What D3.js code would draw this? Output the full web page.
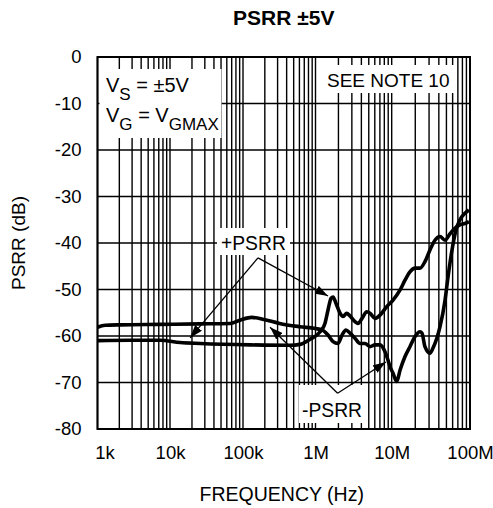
<!DOCTYPE html>
<html><head><meta charset="utf-8">
<script src="https://cdn.jsdelivr.net/npm/d3@7"></script>
<style>
body{margin:0;background:#fff}
text{font-family:"Liberation Sans",Arial,Helvetica,sans-serif;fill:#000}
</style>
</head><body>
<svg id="c" width="493" height="508"></svg>
<script>
// ---- data ----
const xDecades = [1e3, 1e4, 1e5, 1e6, 1e7, 1e8];
const xTickLabels = ["1k", "10k", "100k", "1M", "10M", "100M"];
const yTicks = [0, -10, -20, -30, -40, -50, -60, -70, -80];
const yTickLabels = ["0", "-10", "-20", "-30", "-40", "-50", "-60", "-70", "-80"];

const plusFreq = [1e3, 2.83e3, 7.3e3, 1.38e4, 2.59e4, 1.25e5, 4.45e5, 6.1e5, 8.4e5, 1.15e6, 1.33e6, 1.46e6, 1.6e6, 1.7e6, 1.86e6, 2.1e6, 2.3e6, 2.57e6, 2.84e6, 3.3e6, 3.61e6, 4.08e6, 4.7e6, 5.19e6, 6.04e6, 7.02e6, 8.59e6, 1.04e7, 1.28e7, 1.48e7, 1.71e7, 1.99e7, 2.3e7, 2.66e7, 3.08e7, 3.57e7, 4.14e7, 4.8e7, 5.56e7, 6.44e7, 7.45e7, 8.63e7, 9.7e7];
const plusDb = [-61.0, -60.9, -60.9, -61.4, -61.6, -61.9, -62.0, -61.8, -60.7, -59.1, -57.3, -54.4, -51.9, -51.6, -53.0, -55.1, -55.8, -55.1, -55.7, -56.9, -57.3, -56.2, -54.8, -55.1, -56.2, -55.5, -53.7, -52.3, -50.1, -48.0, -46.2, -45.4, -45.4, -44.0, -41.5, -39.4, -38.6, -39.4, -38.0, -36.8, -36.1, -35.8, -35.4];

const minusFreq = [1e3, 1.28e3, 2.06e3, 7.3e3, 2.59e4, 6.64e4, 9.1e4, 1.32e5, 2.01e5, 3.19e5, 6.1e5, 1e6, 1.22e6, 1.46e6, 1.7e6, 1.97e6, 2.23e6, 2.51e6, 2.84e6, 3.3e6, 3.84e6, 4.47e6, 5.19e6, 6.04e6, 7.02e6, 8.17e6, 8.94e6, 9.5e6, 1.04e7, 1.16e7, 1.28e7, 1.48e7, 1.71e7, 1.99e7, 2.3e7, 2.44e7, 2.66e7, 3.08e7, 3.37e7, 4.14e7, 4.8e7, 5.24e7, 5.89e7, 6.62e7, 7.45e7, 8.63e7, 9.7e7];
const minusDb = [-58.1, -57.7, -57.6, -57.5, -57.4, -57.3, -56.6, -56.0, -56.5, -57.3, -58.0, -58.4, -58.7, -59.8, -61.2, -61.6, -59.8, -58.7, -59.4, -60.5, -61.6, -61.6, -62.3, -61.9, -61.9, -63.4, -65.2, -66.6, -68.0, -69.8, -67.3, -64.4, -62.3, -60.1, -59.1, -59.4, -62.3, -63.7, -62.6, -58.0, -52.3, -47.3, -41.5, -37.2, -35.0, -33.6, -32.9];

// annotation anchors in data coordinates [freq, dB]
const plusVertex = [1.61e5, -43.2];
const plusTips = [[1.89e4, -60.4], [1.46e6, -51.4]];
const minusVertex = [1.95e6, -72.3];
const minusTips = [[2.36e5, -58.1], [8.41e6, -65.6]];

// ---- layout ----
const svg = d3.select("#c");
const x = d3.scaleLog().domain(xDecades).range([97.5, 170, 243, 315.5, 391.7, 470]);
const y = d3.scaleLinear().domain([0, -80]).range([57, 429]);
const [x0, x1] = [x(1e3), x(1e8)];
const [y0, y1] = [y(0), y(-80)];

// grid
const vGrid = [];
xDecades.slice(0, 5).forEach(d => { for (let k = 1; k <= 9; k++) vGrid.push(k * d); });
vGrid.push(1e8);
svg.append("g").selectAll("line").data(vGrid).join("line")
  .attr("x1", d => x(d)).attr("x2", d => x(d)).attr("y1", y0).attr("y2", y1)
  .attr("stroke", "#000").attr("stroke-width", 1.4);
svg.append("g").selectAll("line").data(yTicks).join("line")
  .attr("x1", x0).attr("x2", x1).attr("y1", d => y(d)).attr("y2", d => y(d))
  .attr("stroke", "#000").attr("stroke-width", 1.4);
svg.append("rect").attr("x", x0).attr("y", y0).attr("width", x1 - x0).attr("height", y1 - y0)
  .attr("fill", "none").attr("stroke", "#000").attr("stroke-width", 2);

// axes
const xAxis = d3.axisBottom(x).tickValues(xDecades).tickFormat((d, i) => xTickLabels[i]).tickSize(0).tickPadding(0);
const gx = svg.append("g").attr("transform", `translate(0,${y1 + 24})`).call(xAxis);
gx.select(".domain").remove();
gx.selectAll("text").attr("font-size", 18.5).attr("font-family", "Liberation Sans, Arial, sans-serif")
  .attr("fill", "#000").attr("dy", "0.35em")
  .attr("dx", (d, i) => i === 0 ? 7 : 0);

const yAxis = d3.axisLeft(y).tickValues(yTicks).tickFormat((d, i) => yTickLabels[i]).tickSize(0).tickPadding(0);
const gy = svg.append("g").attr("transform", `translate(${x0 - 16},0)`).call(yAxis);
gy.select(".domain").remove();
gy.selectAll("text").attr("font-size", 18.5).attr("font-family", "Liberation Sans, Arial, sans-serif")
  .attr("fill", "#000");

// titles
svg.append("text").attr("x", (x0 + x1) / 2).attr("y", 25).attr("text-anchor", "middle")
  .attr("font-size", 21).attr("font-weight", "bold").text("PSRR ±5V");
svg.append("text").attr("x", (x0 + x1) / 2 - 2).attr("y", 501).attr("text-anchor", "middle")
  .attr("font-size", 19.5).text("FREQUENCY (Hz)");
svg.append("text").attr("transform", `translate(25,${(y0 + y1) / 2}) rotate(-90)`).attr("text-anchor", "middle")
  .attr("font-size", 19).text("PSRR (dB)");

// label boxes
function box(bx, by, bw, bh) {
  svg.append("rect").attr("x", bx).attr("y", by).attr("width", bw).attr("height", bh).attr("fill", "#fff");
}
box(x0 + 2, 69, 122, 69);
box(323, 65, 131, 28);
box(217, 228, 73, 27);
box(299, 385, 67, 38);

// VS / VG text
const t1 = svg.append("text").attr("x", 106).attr("y", 92).attr("font-size", 20);
t1.append("tspan").text("V");
t1.append("tspan").attr("dy", 8).attr("font-size", 17).text("S");
t1.append("tspan").attr("dy", -8).text(" = ±5V");
const t2 = svg.append("text").attr("x", 106).attr("y", 122).attr("font-size", 20);
t2.append("tspan").text("V");
t2.append("tspan").attr("dy", 8).attr("font-size", 17).text("G");
t2.append("tspan").attr("dy", -8).text(" = V");
t2.append("tspan").attr("dy", 8).attr("font-size", 17).text("GMAX");

svg.append("text").attr("x", 327).attr("y", 87).attr("font-size", 19).text("SEE NOTE 10");
svg.append("text").attr("x", 221).attr("y", 249.5).attr("font-size", 19.3).text("+PSRR");
svg.append("text").attr("x", 302).attr("y", 416.5).attr("font-size", 19.3).text("-PSRR");

// curves
const line = d3.line().x(d => x(d[0])).y(d => y(d[1])).curve(d3.curveMonotoneX);
svg.append("path").datum(d3.zip(plusFreq, plusDb)).attr("d", line)
  .attr("fill", "none").attr("stroke", "#000").attr("stroke-width", 3.6).attr("stroke-linejoin", "round");
svg.append("path").datum(d3.zip(minusFreq, minusDb)).attr("d", line)
  .attr("fill", "none").attr("stroke", "#000").attr("stroke-width", 3.6).attr("stroke-linejoin", "round");

// arrows
svg.append("defs").append("marker").attr("id", "ah").attr("viewBox", "0 0 13 9")
  .attr("refX", 13).attr("refY", 4.5).attr("markerWidth", 13).attr("markerHeight", 9)
  .attr("markerUnits", "userSpaceOnUse").attr("orient", "auto")
  .append("path").attr("d", "M0,0 L13,4.5 L0,9 Z").attr("fill", "#000");
function arrows(v, tips) {
  tips.forEach(t => {
    svg.append("line").attr("x1", x(v[0])).attr("y1", y(v[1])).attr("x2", x(t[0])).attr("y2", y(t[1]))
      .attr("stroke", "#000").attr("stroke-width", 1.3).attr("marker-end", "url(#ah)");
  });
}
arrows(plusVertex, plusTips);
arrows(minusVertex, minusTips);
</script>
</body></html>
